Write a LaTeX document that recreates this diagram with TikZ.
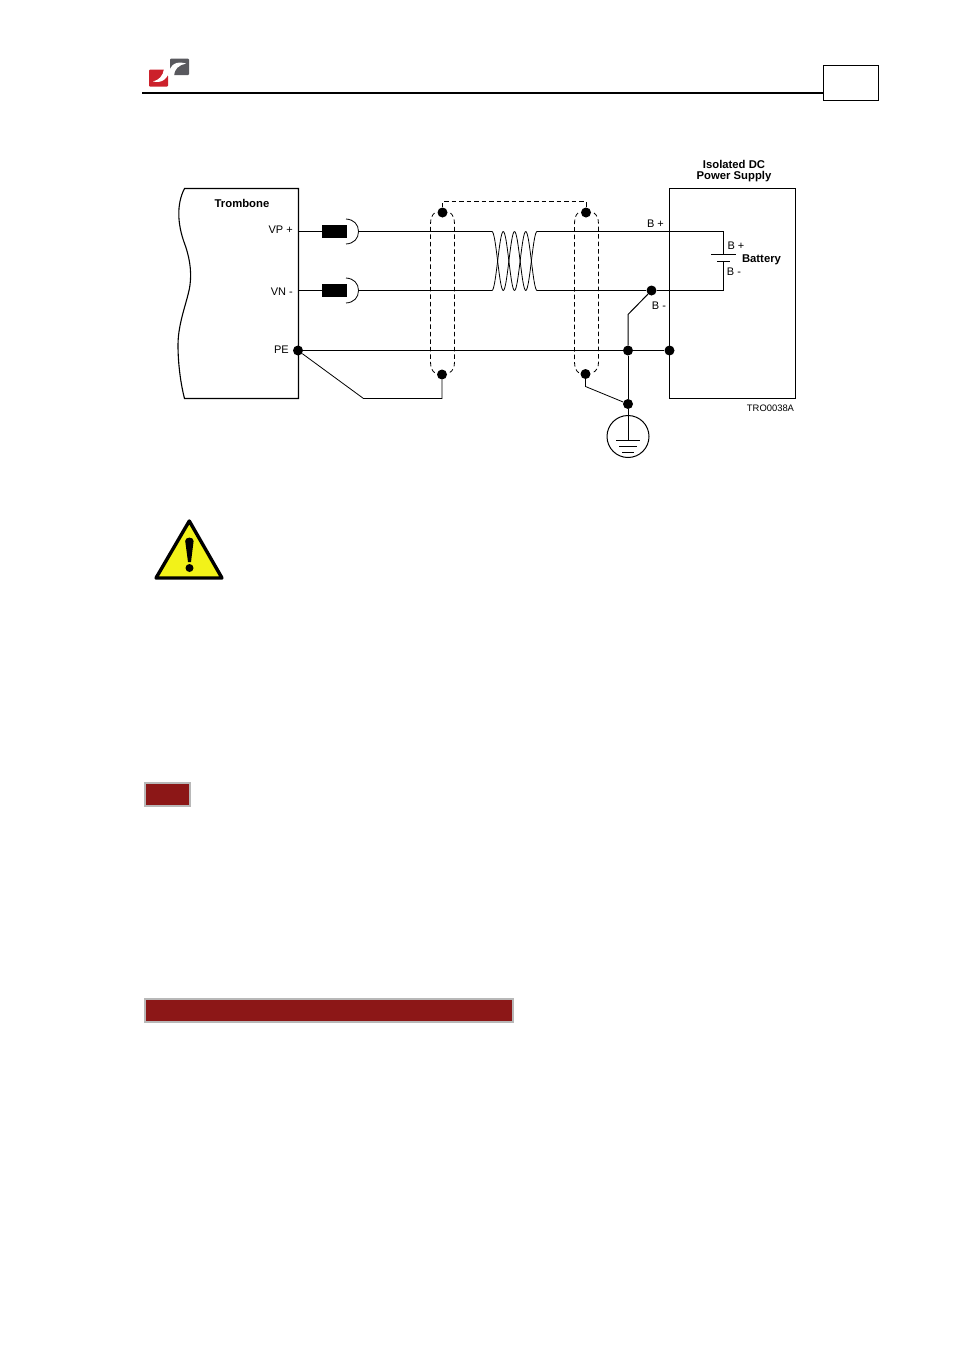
\documentclass[tikz,border=0pt]{standalone}
\usepackage{fontspec}
\setmainfont{Liberation Sans}
\usetikzlibrary{positioning}
\definecolor{logo red}{rgb}{0.80, 0.13, 0.17}
\definecolor{logo gray}{rgb}{0.35, 0.35, 0.37}
\definecolor{bar red}{rgb}{0.55, 0.09, 0.09}
\definecolor{bar edge}{rgb}{0.72, 0.72, 0.72}
\definecolor{warn yellow}{rgb}{0.95, 0.95, 0.10}
\tikzset{
	wire/.style={line width=1pt},
	thinwire/.style={line width=0.8pt},
	shield/.style={line width=0.8pt, dash pattern=on 4.5pt off 3pt},
	dot/.style={circle, fill=black, inner sep=0pt, minimum size=10pt},
	lbl/.style={font=\fontsize{11}{12}\selectfont, inner sep=0pt},
	boldlbl/.style={lbl, font=\fontsize{11.3}{12}\selectfont\bfseries},
	choke/.style={fill=black, draw=none, inner sep=0pt, minimum width=25pt, minimum height=13pt},
	redbar/.style={fill=bar red, draw=bar edge, line width=2pt}
}
\begin{document}
\begin{tikzpicture}[x=1pt, y=-1pt]
	\useasboundingbox (0, 0) rectangle (955, 1350);
	\fill[white] (0, 0) rectangle (955, 1350);
	% header
	\fill[logo red, rounded corners=1pt] (149, 69.5) -- (168, 69.5) -- (168, 86.5) -- (149, 86.5) -- cycle;
	\fill[logo gray, rounded corners=1pt] (170, 58.5) -- (189, 58.5) -- (189, 75) -- (170, 75) -- cycle;
	\fill[white] (164, 69) .. controls (163, 76) and (159, 80) .. (153, 81.5) .. controls (162, 83.5) and (168, 79) .. (170, 69) -- cycle;
	\fill[white] (174, 76) .. controls (174, 69) and (179, 65) .. (186, 63.5) .. controls (177, 61) and (170, 63) .. (168, 76) -- cycle;
	\draw[line width=2pt] (142, 92.7) -- (823, 92.7);
	\draw[line width=1.3pt] (823.5, 65.5) rectangle (878.5, 100.5);
	% trombone box
	\draw[line width=1.1pt] (298.5, 188.5) -- (184.5, 188.5) .. controls (176, 205) and (178, 225) .. (184, 242)
		.. controls (189, 255) and (192, 270) .. (190, 285) .. controls (188, 300) and (178, 322) .. (178, 345)
		.. controls (178, 365) and (181, 385) .. (184.5, 398.5) -- (298.5, 398.5) -- cycle;
	\draw[line width=1.5pt] (184.5, 188.5) -- (298.5, 188.5);
	\node[boldlbl] (trombone) at (242, 203) {Trombone};
	\node[lbl, anchor=east] (vp) at (293, 230) {VP +};
	\node[lbl, anchor=east] (vn) at (293, 291.5) {VN -};
	\node[lbl, anchor=east] (pe) at (289, 349.5) {PE};
	% power supply box
	\draw[wire] (669.5, 188.5) rectangle (795.5, 398.5);
	\node[boldlbl] (supply1) at (734, 164) {Isolated DC};
	\node[boldlbl] (supply2) at (734, 177) {Power Supply};
	\node[lbl, font=\fontsize{9.4}{10}\selectfont] (tag) at (770.5, 408) {TRO0038A};
	% connector junctions
	\node[dot] (pedot) at (298, 350.5) {};
	\node[dot] (shieldla) at (442.5, 212.5) {};
	\node[dot] (shieldlb) at (442, 374.5) {};
	\node[dot] (shieldra) at (586, 212.5) {};
	\node[dot] (shieldrb) at (585.5, 374) {};
	\node[dot] (bminus) at (651.5, 290.5) {};
	\node[dot] (pejoin) at (628, 350.5) {};
	\node[dot] (boxjoin) at (669.5, 350.5) {};
	\node[dot] (gnddot) at (628, 404) {};
	\coordinate (chokea) at (334.5, 231.5);
	\coordinate (chokeb) at (334.5, 290.5);
	\node[choke] (vpchoke) at (chokea) {};
	\node[choke] (vnchoke) at (chokeb) {};
	% plus and minus wires
	\draw[wire] (298.5, 231.5) -- (vpchoke);
	\draw[wire] (298.5, 290.5) -- (vnchoke);
	\draw[wire] (358.5, 231.5) -- (492, 231.5);
	\draw[wire] (358.5, 290.5) -- (492, 290.5);
	\draw[thinwire] (346, 219) .. controls (354, 219.5) and (358.5, 224.5) .. (358.5, 231.5) .. controls (358.5, 238.5) and (354, 243.5) .. (346, 244);
	\draw[thinwire] (346, 278) .. controls (354, 278.5) and (358.5, 283.5) .. (358.5, 290.5) .. controls (358.5, 297.5) and (354, 302.5) .. (346, 303);
	% twist
	\foreach \x in {492, 503.25, 514.5, 525.75} {
		\draw[thinwire] (\x, 231.5) .. controls (\x+4, 231.5) and (\x+7.25, 290.5) .. (\x+11.25, 290.5);
		\draw[thinwire] (\x, 290.5) .. controls (\x+4, 290.5) and (\x+7.25, 231.5) .. (\x+11.25, 231.5);
	}
	\draw[wire] (537, 231.5) -- (723.5, 231.5) -- (723.5, 254.5);
	\draw[wire] (537, 290.5) -- (bminus) -- (723.5, 290.5) -- (723.5, 261);
	\draw[wire] (711, 254.5) -- (736, 254.5);
	\draw[wire] (717, 261) -- (730, 261);
	\node[lbl] (bpa) at (655.5, 223.5) {B +};
	\node[lbl] (bma) at (659, 305.5) {B -};
	\node[lbl] (bpb) at (736, 245.5) {B +};
	\node[lbl] (bmb) at (734, 271.5) {B -};
	\node[boldlbl] (battery) at (761.5, 259.5) {Battery};
	% earth wires
	\draw[wire] (pedot) -- (boxjoin);
	\draw[thinwire] (pedot) -- (363.5, 398.5) -- (442, 398.5) -- (shieldlb);
	\draw[wire] (bminus) -- (628, 314.5) -- (pejoin);
	\draw[wire] (pejoin) -- (gnddot);
	\draw[thinwire] (shieldrb) -- (585.5, 386.5) -- (gnddot);
	% ground symbol
	\node[draw, circle, line width=1pt, inner sep=0pt, minimum size=42pt] (gnd) at (628, 436.5) {};
	\draw[wire] (gnddot) -- (628, 440);
	\draw[wire] (616, 440) -- (640, 440);
	\draw[wire] (619, 446) -- (637, 446);
	\draw[wire] (622, 452.5) -- (634, 452.5);
	% shield outlines
	\draw[shield] (shieldla) -- (442.5, 201.5) -- (586, 201.5) -- (shieldra);
	\draw[shield] (434.5, 213) .. controls (432, 215) and (430.5, 219) .. (430.5, 224) -- (430.5, 362) .. controls (430.5, 367) and (432, 371) .. (435, 373);
	\draw[shield] (450.5, 213) .. controls (453, 215) and (454.5, 219) .. (454.5, 224) -- (454.5, 362) .. controls (454.5, 367) and (453, 371) .. (449, 373);
	\draw[shield] (578, 213) .. controls (575.5, 215) and (574.5, 219) .. (574.5, 224) -- (574.5, 362) .. controls (574.5, 367) and (576, 371) .. (579, 373);
	\draw[shield] (594, 213) .. controls (597, 215) and (598.5, 219) .. (598.5, 224) -- (598.5, 362) .. controls (598.5, 367) and (597, 371) .. (592, 373);
	% warning sign
	\draw[fill=warn yellow, line width=3.4pt, line join=round] (189.3, 521) -- (222, 578) -- (156, 578) -- cycle;
	\fill (185.2, 541) .. controls (185.2, 536.5) and (193.6, 536.5) .. (193.6, 541) -- (191, 562) -- (188, 562) -- cycle;
	\fill (189.5, 568) circle (4);
	% bars
	\draw[redbar] (145, 783) rectangle (190, 805.5);
	\draw[redbar] (145, 999) rectangle (513, 1022);
\end{tikzpicture}
\end{document}
